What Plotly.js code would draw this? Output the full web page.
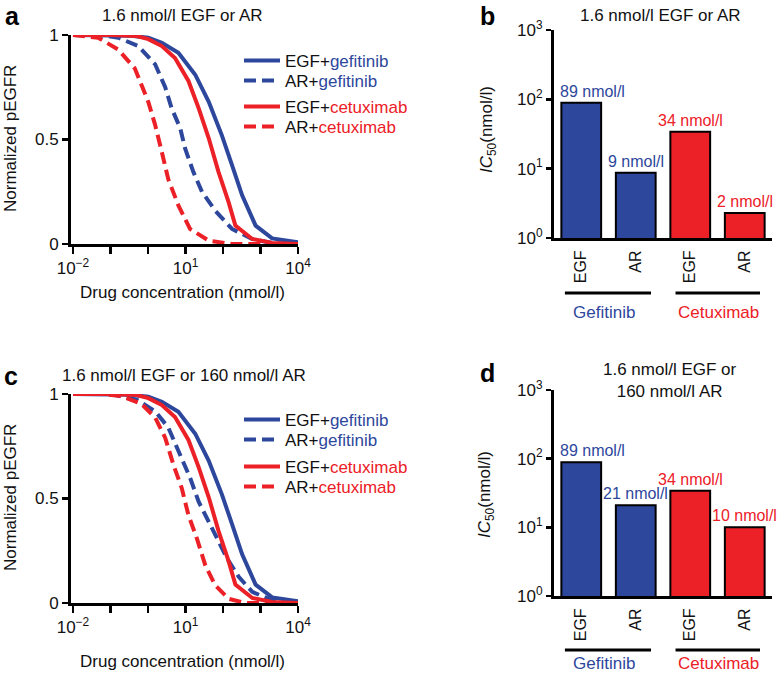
<!DOCTYPE html>
<html><head><meta charset="utf-8">
<script src="https://cdn.plot.ly/plotly-3.0.1.min.js"></script>
<style>html,body{margin:0;padding:0;background:#fff}</style>
</head><body><div id="chart" style="width:777px;height:675px"></div>
<script>
// ---------- data ----------
// Dose–response curves, drug concentration in nmol/l, response = normalized pEGFR
const egfGefConc  = [0.01, 0.1, 0.316, 1.02, 2.34, 6.46, 18.2, 41.7, 93.3, 174, 324, 741, 2042, 10000];
const egfGefResp  = [1, 1, 0.997, 0.987, 0.963, 0.915, 0.81, 0.68, 0.52, 0.377, 0.233, 0.088, 0.027, 0.008];

const egfCetConc  = [0.01, 0.1, 0.5, 1.02, 2.34, 5.25, 12.0, 22.4, 41.7, 75.9, 141, 214, 603, 2042, 10000];
const egfCetResp  = [1, 1, 0.995, 0.98, 0.947, 0.89, 0.78, 0.65, 0.506, 0.345, 0.20, 0.088, 0.024, 0.005, 0];

// panel a: 1.6 nmol/l AR
const arGefConcA  = [0.01, 0.063, 0.162, 0.55, 1.55, 2.88, 4.27, 7.24, 9.77, 16.2, 27.5, 61.7, 174, 603, 2042, 10000];
const arGefRespA  = [1, 0.998, 0.987, 0.947, 0.86, 0.75, 0.65, 0.554, 0.457, 0.345, 0.25, 0.16, 0.072, 0.024, 0.005, 0];
const arCetConcA  = [0.01, 0.047, 0.162, 0.447, 1.02, 1.55, 2.34, 3.47, 6.46, 13.2, 41.7, 174, 10000];
const arCetRespA  = [1, 0.987, 0.93, 0.84, 0.68, 0.57, 0.44, 0.31, 0.185, 0.072, 0.016, 0, 0];

// panel c: 160 nmol/l AR
const arGefConcC  = [0.01, 0.1, 0.5, 1.55, 3.47, 7.24, 13.2, 22.4, 37.2, 69.2, 129, 263, 603, 2042, 10000];
const arGefRespC  = [1, 1, 0.973, 0.917, 0.84, 0.71, 0.60, 0.485, 0.405, 0.31, 0.213, 0.125, 0.053, 0.013, 0];
const arCetConcC  = [0.01, 0.063, 0.195, 0.676, 1.55, 2.88, 4.79, 7.94, 12.0, 20.0, 33.9, 61.7, 141, 398, 10000];
const arCetRespC  = [1, 1, 0.99, 0.952, 0.888, 0.79, 0.66, 0.55, 0.42, 0.31, 0.18, 0.085, 0.02, 0, 0];

// IC50 bar charts
const barCategories = ['EGF', 'AR', 'EGF', 'AR'];
const barDrugs      = ['Gefitinib', 'Gefitinib', 'Cetuximab', 'Cetuximab'];
const ic50B         = [89, 8.7, 34, 2.3];
const ic50BLabels   = ['89 nmol/l', '9 nmol/l', '34 nmol/l', '2 nmol/l'];
const ic50D         = [89, 21, 34, 10];
const ic50DLabels   = ['89 nmol/l', '21 nmol/l', '34 nmol/l', '10 nmol/l'];

const concTickVals  = [0.01, 0.1, 1, 10, 100, 1000, 10000];
const concTickText  = ['10<sup>\u22122</sup>', '', '', '10<sup>1</sup>', '', '', '10<sup>4</sup>'];
const respTickVals  = [0, 0.5, 1];
const respTickText  = ['0', '0.5', '1'];
const icTickVals    = [1, 10, 100, 1000];
const icTickText    = ['10<sup>0</sup>', '10<sup>1</sup>', '10<sup>2</sup>', '10<sup>3</sup>'];

// ---------- styling ----------
const FONT = 'Liberation Sans, Arial, Helvetica, sans-serif';
const BLUE = '#2d479c';
const RED = '#ec2027';
const W = 777, H = 675;
const px = v => v / W;
const py = v => 1 - v / H;
const DASH = '12px,6px';

function gefName(prefix) { return prefix + '+<span style="color:' + BLUE + '">gefitinib</span>'; }
function cetName(prefix) { return prefix + '+<span style="color:' + RED + '">cetuximab</span>'; }

function curve(x, y, color, dash, name, xa, ya, legend) {
  return {
    type: 'scatter', mode: 'lines', x: x, y: y, xaxis: xa, yaxis: ya,
    line: {color: color, width: 4, dash: dash},
    name: name, legend: legend, cliponaxis: false,
    hoverinfo: 'x+y'
  };
}

const barColors = barDrugs.map(d => d === 'Gefitinib' ? BLUE : RED);
const barX = barCategories.map((c, i) => i);

function bars(vals, xa, ya) {
  return {
    type: 'bar', x: barX, y: vals, xaxis: xa, yaxis: ya, width: 0.73,
    marker: {color: barColors, line: {color: '#000', width: 2}},
    cliponaxis: false, showlegend: false, hoverinfo: 'y'
  };
}

// value labels above bars (log axis: annotation y is given as log10 of the value)
function barLabels(vals, labels, xref, yref) {
  return vals.map((v, i) => ({
    text: labels[i], x: barX[i], y: Math.log10(v), xref: xref, yref: yref,
    showarrow: false, xanchor: 'center', yanchor: 'bottom', yshift: 1, xshift: i === 0 ? 11 : 0,
    font: {family: FONT, size: 16, color: barColors[i]}
  }));
}

const data = [
  curve(egfGefConc, egfGefResp, BLUE, 'solid', gefName('EGF'), 'x', 'y', 'legend'),
  curve(arGefConcA, arGefRespA, BLUE, DASH, gefName('AR'), 'x', 'y', 'legend2'),
  curve(egfCetConc, egfCetResp, RED, 'solid', cetName('EGF'), 'x', 'y', 'legend3'),
  curve(arCetConcA, arCetRespA, RED, DASH, cetName('AR'), 'x', 'y', 'legend4'),
  bars(ic50B, 'x2', 'y2'),
  curve(egfGefConc, egfGefResp, BLUE, 'solid', gefName('EGF'), 'x3', 'y3', 'legend5'),
  curve(arGefConcC, arGefRespC, BLUE, DASH, gefName('AR'), 'x3', 'y3', 'legend6'),
  curve(egfCetConc, egfCetResp, RED, 'solid', cetName('EGF'), 'x3', 'y3', 'legend7'),
  curve(arCetConcC, arCetRespC, RED, DASH, cetName('AR'), 'x3', 'y3', 'legend8'),
  bars(ic50D, 'x4', 'y4')
];

const axBase = {
  showline: true, linewidth: 3, linecolor: '#000', showgrid: false, zeroline: false,
  ticks: 'outside', tickwidth: 2.5, tickcolor: '#000', tickfont: {family: FONT, size: 17, color: '#111'},
  fixedrange: true
};

function concAxis(anchor) {
  return Object.assign({}, axBase, {
    domain: [px(71), px(298)], anchor: anchor, type: 'log', range: [-2.053, 4],
    tickmode: 'array', tickvals: concTickVals, ticktext: concTickText, ticklen: 7
  });
}
function respAxis(anchor, top, bottom) {
  return Object.assign({}, axBase, {
    domain: [py(bottom), py(top)], anchor: anchor, range: [0, 1],
    tickmode: 'array', tickvals: respTickVals, ticktext: respTickText, ticklen: 6
  });
}
function catAxis(anchor) {
  return Object.assign({}, axBase, {
    domain: [px(554), px(772)], anchor: anchor, range: [-0.5, 3.5],
    tickmode: 'array', tickvals: barX, ticktext: barCategories, tickangle: -90,
    ticks: '', ticklabelstandoff: 3, tickfont: {family: FONT, size: 16, color: '#111'}
  });
}
function icAxis(anchor, top, bottom) {
  return Object.assign({}, axBase, {
    domain: [py(bottom), py(top)], anchor: anchor, type: 'log', range: [0, 3],
    tickmode: 'array', tickvals: icTickVals, ticktext: icTickText, ticklen: 5
  });
}

// one legend per entry so rows can sit at the reference spacing
const legendRowsA = [61, 81, 107, 127];
const legendRowsC = [420, 440, 467, 487];
function legendAt(y) {
  return {
    x: px(239), xanchor: 'left', y: py(y), yanchor: 'middle',
    bgcolor: 'rgba(0,0,0,0)', borderwidth: 0, itemwidth: 36,
    font: {family: FONT, size: 17, color: '#111'},
    itemclick: false, itemdoubleclick: false
  };
}

function ann(text, x, y, opts) {
  return Object.assign({text: text, x: px(x), y: py(y), xref: 'paper', yref: 'paper',
    showarrow: false, xanchor: 'center', yanchor: 'middle',
    font: {family: FONT, size: 17, color: '#111'}}, opts || {});
}

const letterFont = {family: FONT, size: 25, color: '#000'};
const annotations = [
  ann('<b>a</b>', 12, 16, {font: letterFont}),
  ann('<b>b</b>', 487, 16, {font: letterFont}),
  ann('<b>c</b>', 11, 376, {font: letterFont}),
  ann('<b>d</b>', 487, 373, {font: letterFont}),
  ann('1.6 nmol/l EGF or AR', 182, 15),
  ann('1.6 nmol/l EGF or AR', 660, 16),
  ann('1.6 nmol/l EGF or 160 nmol/l AR', 184, 375),
  ann('1.6 nmol/l EGF or<br>160 nmol/l AR', 670, 380),
  ann('Normalized pEGFR', 10, 139, {textangle: -90}),
  ann('Normalized pEGFR', 10, 498, {textangle: -90}),
  ann('Drug concentration (nmol/l)', 182, 292),
  ann('Drug concentration (nmol/l)', 182, 661),
  ann('<i>IC</i><sub>50</sub>(nmol/l)', 488, 130, {textangle: -90}),
  ann('<i>IC</i><sub>50</sub>(nmol/l)', 486, 495, {textangle: -90}),
  // drug group labels under bar charts
  ann('Gefitinib', 604, 312, {font: {family: FONT, size: 17, color: BLUE}}),
  ann('Cetuximab', 718, 312, {font: {family: FONT, size: 17, color: RED}}),
  ann('Gefitinib', 604, 663, {font: {family: FONT, size: 17, color: BLUE}}),
  ann('Cetuximab', 718, 663, {font: {family: FONT, size: 17, color: RED}})
].concat(barLabels(ic50B, ic50BLabels, 'x2', 'y2'), barLabels(ic50D, ic50DLabels, 'x4', 'y4'));

const groupLine = (xref, x0, x1, y) => ({type: 'line', xref: xref, yref: 'paper', x0: x0, x1: x1,
  y0: py(y), y1: py(y), line: {color: '#000', width: 3}});

const shapes = [
  groupLine('x2', -0.3, 1.28, 293), groupLine('x2', 1.73, 3.28, 293),
  groupLine('x4', -0.3, 1.28, 650), groupLine('x4', 1.73, 3.28, 650)
];

const layout = {
  width: W, height: H, margin: {l: 0, r: 0, t: 0, b: 0},
  paper_bgcolor: '#fff', plot_bgcolor: 'rgba(0,0,0,0)',
  font: {family: FONT, size: 17, color: '#111'},
  showlegend: true,
  xaxis: concAxis('y'), yaxis: respAxis('x', 35, 244),
  xaxis2: catAxis('y2'), yaxis2: icAxis('x2', 30, 238),
  xaxis3: concAxis('y3'), yaxis3: respAxis('x3', 394, 603),
  xaxis4: catAxis('y4'), yaxis4: icAxis('x4', 390, 596),
  annotations: annotations, shapes: shapes
};
['legend', 'legend2', 'legend3', 'legend4'].forEach((k, i) => { layout[k] = legendAt(legendRowsA[i]); });
['legend5', 'legend6', 'legend7', 'legend8'].forEach((k, i) => { layout[k] = legendAt(legendRowsC[i]); });

Plotly.newPlot('chart', data, layout, {displayModeBar: false, staticPlot: true});
</script></body></html>
